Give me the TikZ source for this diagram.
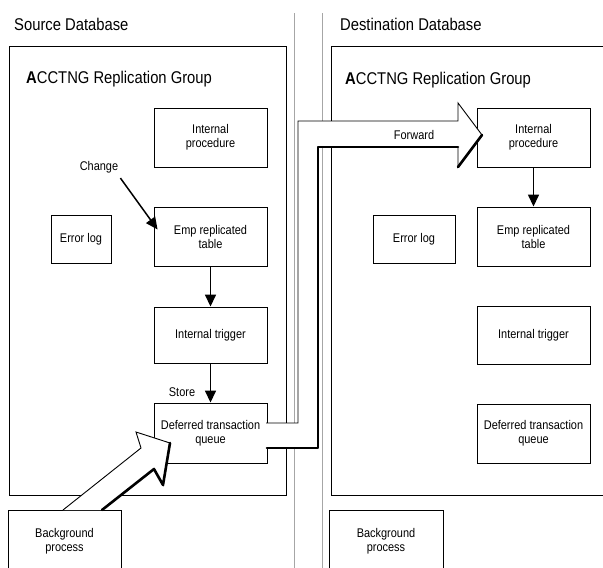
\documentclass[tikz,border=0pt]{standalone}
\usepackage{fontspec}
\setmainfont{Liberation Sans}[FakeStretch=0.87]
\usetikzlibrary{arrows.meta}

\begin{document}
\begin{tikzpicture}[x=1pt,y=-1pt,
    box/.style={draw,line width=0.9pt,minimum width=113pt,align=center,inner sep=1pt,font=\fontsize{12.6}{14}\selectfont},
    group/.style={draw,line width=0.9pt,anchor=north west,inner sep=0pt},
    lbl/.style={inner sep=0pt,font=\fontsize{12.6}{14}\selectfont},
    title/.style={anchor=west,inner sep=0pt,font=\fontsize{17}{18}\selectfont},
    flow/.style={-{Triangle[width=11pt,length=12pt]},line width=1.5pt},
    sep/.style={black!35,line width=0.9pt},
    hollow/.style={fill=white,line width=0.9pt,line join=miter},
    shade/.style={line width=2.6pt,line cap=round,line join=round}]
    \useasboundingbox (0,0) rectangle (603,568);
    \clip (0,0) rectangle (603,568);

    % the two databases
    \node[group,minimum width=277pt,minimum height=449pt] (srcgrp) at (9,46) {};
    \node[group,minimum width=300pt,minimum height=449pt] (dstgrp) at (331,46) {};
    \draw[sep] (294,13) -- (294,570);
    \draw[sep] (322,13) -- (322,570);
    \node[title] (srcdb) at (14,24) {Source Database};
    \node[title] (dstdb) at (340,24) {Destination Database};
    \node[title] (srcrg) at (26,79) {\textbf{A}CCTNG Replication Group};
    \node[title] (dstrg) at (345,80) {\textbf{A}CCTNG Replication Group};

    % source side
    \node[box,minimum height=59pt] (sproc) at (210.5,137.5) {Internal\\procedure};
    \node[box,minimum height=59pt] (semp) at (210.5,236.5) {Emp replicated\\table};
    \node[box,minimum height=56pt] (strig) at (210.5,335) {Internal trigger};
    \node[box,minimum height=60pt] (squeue) at (210.5,433) {Deferred transaction\\queue};
    \node[box,minimum width=60pt,minimum height=48pt] (serr) at (81,239) {Error log};
    \node[box,minimum height=62pt,anchor=north] (sbg) at (64.5,510) {Background\\process};

    % destination side
    \node[box,minimum height=59pt] (dproc) at (533.5,137.5) {Internal\\procedure};
    \node[box,minimum height=59pt] (demp) at (533.5,236.5) {Emp replicated\\table};
    \node[box,minimum height=58pt] (dtrig) at (533.5,335.5) {Internal trigger};
    \node[box,minimum height=59pt] (dqueue) at (533.5,433.5) {Deferred transaction\\queue};
    \node[box,minimum width=82pt,minimum height=48pt] (derr) at (414,239) {Error log};
    \node[box,minimum width=114pt,minimum height=62pt,anchor=north] (dbg) at (386,510) {Background\\process};

    % flow inside the groups
    \node[lbl] (chg) at (99,167) {Change};
    \draw[flow] ([xshift=2pt,yshift=-5pt]chg.south east) -- ([xshift=4pt,yshift=7pt]semp.west);
    \draw[flow] (semp) -- (strig);
    \node[lbl] (store) at (182,392) {Store};
    \draw[flow] (strig) -- (squeue);
    \draw[flow] (dproc) -- (demp);

    % forward arrow
    \filldraw[hollow] (266,423) -- (298,423) -- (298,121) -- (458,121) -- (458,103)
        -- (482,135) -- (458,167) -- (458,147) -- (318,147) -- (318,448) -- (266,448);
    \draw[shade] (482,135) -- (458,167);
    \draw[shade] (458,147) -- (318,147) -- (318,448) -- (267,448);
    \node[lbl] (fwd) at (414,135) {Forward};

    % background process arrow
    \filldraw[hollow] (63,510) -- (141,448) -- (136,432) -- (170,443) -- (163,485)
        -- (154,469) -- (102,510);
    \draw[shade] (170,443) -- (163,485) -- (154,469) -- (102,510);
\end{tikzpicture}
\end{document}
